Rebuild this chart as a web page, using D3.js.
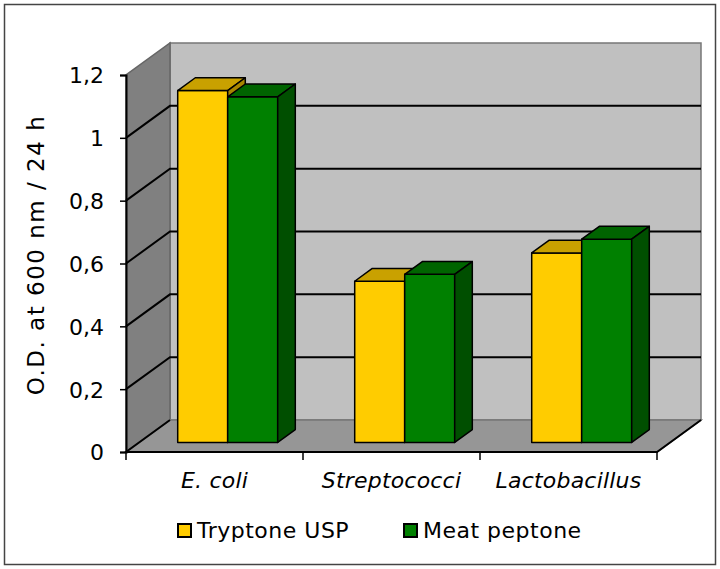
<!DOCTYPE html>
<html>
<head>
<meta charset="utf-8">
<script src="https://cdn.jsdelivr.net/npm/d3@7"></script>
<style>
body { margin: 0; background: #fff; }
text { font-family: "DejaVu Sans", Verdana, sans-serif; fill: #000; }
</style>
</head>
<body>
<svg width="720" height="569"></svg>
<script>
// data
var categories = ["E. coli", "Streptococci", "Lactobacillus"]
var series = ["Tryptone USP", "Meat peptone"]
var tryptone = [1.12, 0.513, 0.603]
var meat = [1.10, 0.535, 0.647]
var yTicks = [0, 0.2, 0.4, 0.6, 0.8, 1, 1.2]

var colors = {
	"Tryptone USP": { front: "#ffcc00", top: "#c9a100", side: "#a88600" },
	"Meat peptone": { front: "#008000", top: "#006400", side: "#004f00" }
}

var svg = d3.select("svg")

// 3d box: front plane left/right, floor, depth offset
var x0 = 126, x1 = 657, floorY = 452
var depthX = 44, depthY = 32

var y = d3.scaleLinear().domain([0, 1.2]).range([floorY, 75])
var x = d3.scaleBand().domain(categories).range([x0, x1]).paddingInner(0).paddingOuter(0)
var xs = d3.scaleBand().domain(series).range([0, x.bandwidth()]).paddingInner(0).paddingOuter(0.77)

// project a point (front x, value, depth 0..1) to screen
function P(px, v, z) { return [px + z * depthX, y(v) - z * depthY] }
function poly(pts) { return "M" + pts.map(p => p.join(",")).join("L") + "Z" }

// outer frame
svg.append("rect").attr("x", 4.5).attr("y", 4.5).attr("width", 711).attr("height", 560)
	.attr("fill", "none").attr("stroke", "#444").attr("stroke-width", 1.5)

var walls = svg.append("g")
// back wall
walls.append("path").attr("d", poly([P(x0, 0, 1), P(x0, 1.2, 1), P(x1, 1.2, 1), P(x1, 0, 1)]))
	.attr("fill", "#c0c0c0").attr("stroke", "#777").attr("stroke-width", 1.5)
// side wall
walls.append("path").attr("d", poly([P(x0, 0, 0), P(x0, 1.2, 0), P(x0, 1.2, 1), P(x0, 0, 1)]))
	.attr("fill", "#808080").attr("stroke", "#666").attr("stroke-width", 1.5)
// floor
walls.append("path").attr("d", poly([P(x0, 0, 0), P(x0, 0, 1), P(x1, 0, 1), P(x1, 0, 0)]))
	.attr("fill", "#969696").attr("stroke", "#777").attr("stroke-width", 1.5)

// gridlines on side and back wall
var grid = yTicks.filter(d => d > 0 && d < 1.2)
svg.append("g").selectAll("path").data(grid).enter().append("path")
	.attr("d", d => "M" + P(x0, d, 0) + "L" + P(x0, d, 1) + "L" + P(x1, d, 1))
	.attr("fill", "none").attr("stroke", "#000").attr("stroke-width", 2)

// floor front edges in black
svg.append("path").attr("d", "M" + P(x0, 0, 1) + "L" + P(x0, 0, 0) + "L" + P(x1, 0, 0) + "L" + P(x1, 0, 1))
	.attr("fill", "none").attr("stroke", "#000").attr("stroke-width", 2)

// bars
var rows = []
categories.forEach(function(c, i) {
	rows.push({ cat: c, s: series[0], v: tryptone[i] })
	rows.push({ cat: c, s: series[1], v: meat[i] })
})

var zf = 0.3, zb = 0.7
var bars = svg.append("g").selectAll("g").data(rows).enter().append("g")
	.attr("stroke", "#000").attr("stroke-width", 1.5).attr("stroke-linejoin", "round")
bars.append("path")
	.attr("d", function(d) {
		var a = x(d.cat) + xs(d.s), b = a + xs.bandwidth()
		return poly([P(a, 0, zf), P(a, d.v, zf), P(b, d.v, zf), P(b, 0, zf)])
	})
	.attr("fill", d => colors[d.s].front)
bars.append("path")
	.attr("d", function(d) {
		var a = x(d.cat) + xs(d.s), b = a + xs.bandwidth()
		return poly([P(a, d.v, zf), P(a, d.v, zb), P(b, d.v, zb), P(b, d.v, zf)])
	})
	.attr("fill", d => colors[d.s].top)
bars.append("path")
	.attr("d", function(d) {
		var b = x(d.cat) + xs(d.s) + xs.bandwidth()
		return poly([P(b, 0, zf), P(b, d.v, zf), P(b, d.v, zb), P(b, 0, zb)])
	})
	.attr("fill", d => colors[d.s].side)

// y axis
var yAxis = svg.append("g").attr("transform", "translate(" + x0 + ",0)")
	.call(d3.axisLeft(y).tickValues(yTicks).tickSize(6).tickPadding(16)
		.tickFormat(d => String(d).replace(".", ",")))
yAxis.select(".domain").attr("stroke", "#000").attr("stroke-width", 2)
yAxis.selectAll(".tick line").attr("stroke", "#000").attr("stroke-width", 1.5)
yAxis.selectAll("text").style("font-size", "22px").attr("dy", "0.36em")

// x axis ticks at category edges
var edges = categories.map(c => x(c)).concat([x1])
svg.append("g").selectAll("line").data(edges).enter().append("line")
	.attr("x1", d => d).attr("x2", d => d).attr("y1", floorY).attr("y2", floorY + 8)
	.attr("stroke", "#000").attr("stroke-width", 1.5)

svg.append("g").selectAll("text").data(categories).enter().append("text")
	.attr("x", d => x(d) + x.bandwidth() / 2).attr("y", 488)
	.attr("text-anchor", "middle").style("font-size", "22px").style("font-style", "italic")
	.style("letter-spacing", "0.2px")
	.text(d => d)

// y title
svg.append("text").attr("transform", "translate(44,255) rotate(-90)")
	.attr("text-anchor", "middle").style("font-size", "23px").style("letter-spacing", "1.5px")
	.text("O.D. at 600 nm / 24 h")

// legend
var legendX = [177, 403]
var lg = svg.append("g").selectAll("g").data(series).enter().append("g")
	.attr("transform", (d, i) => "translate(" + legendX[i] + ",523)")
lg.append("rect").attr("x", 1).attr("y", 1).attr("width", 13).attr("height", 13)
	.attr("fill", d => colors[d].front).attr("stroke", "#000").attr("stroke-width", 2)
lg.append("text").attr("x", 20).attr("y", 15).style("font-size", "22px")
	.style("letter-spacing", "0.5px").text(d => d)
</script>
</body>
</html>
